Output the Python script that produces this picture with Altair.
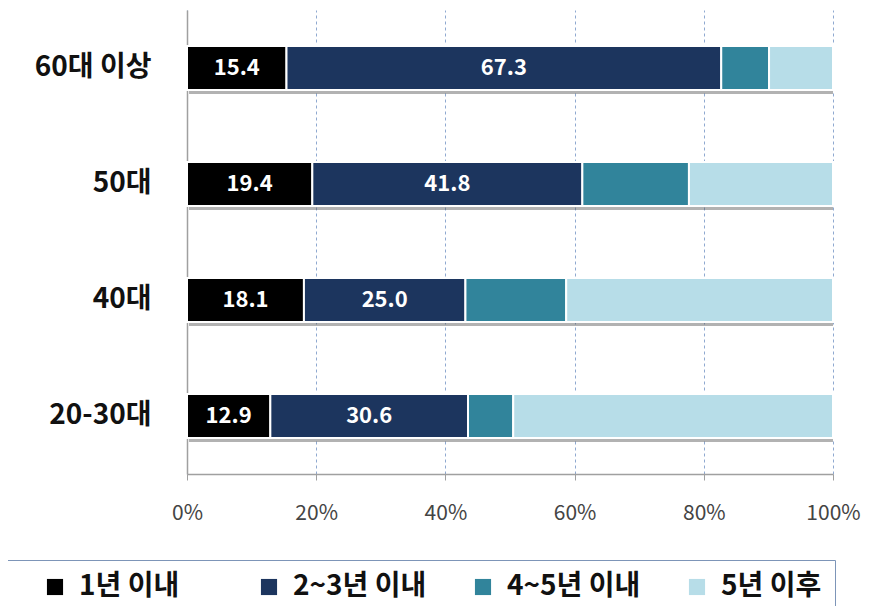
import altair as alt
import pandas as pd

groups = ["60대 이상", "50대", "40대", "20-30대"]
series = ["1년 이내", "2~3년 이내", "4~5년 이내", "5년 이후"]
colors = ["#000000", "#1c355e", "#31849b", "#b7dde8"]
v1 = [15.4, 19.4, 18.1, 12.9]
v2 = [67.3, 41.8, 25.0, 30.6]
v3 = [7.4, 16.5, 15.6, 7.0]
v4 = [9.9, 22.3, 41.3, 49.5]
labelled = ["1년 이내", "2~3년 이내"]

rows = []
for gi, g in enumerate(groups):
    start = 0.0
    for s, vals in zip(series, [v1, v2, v3, v4]):
        v = vals[gi]
        rows.append({"group": g, "series": s, "value": v, "start": start,
                     "end": start + v, "mid": start + v / 2,
                     "label": f"{v:.1f}" if s in labelled else ""})
        start += v
df = pd.DataFrame(rows)
tot = pd.DataFrame({"group": groups, "start": [0] * 4, "end": [100] * 4})

FONT = "Noto Sans CJK KR"
yscale = alt.Scale(paddingInner=0.62, paddingOuter=0.31)
xscale = alt.Scale(domain=[0, 100], nice=False)

x_axis = alt.Axis(values=[0, 20, 40, 60, 80, 100], labelExpr="datum.value + '%'",
                  grid=True, gridDash=[3, 3], gridColor="#8fa9d0", gridWidth=1,
                  domainColor="#a0a0a0", domainWidth=1.5, tickColor="#a0a0a0",
                  tickSize=6, labelFontSize=21, labelColor="#444444",
                  labelFont=FONT, labelPadding=22, labelFlush=False)
y_axis = alt.Axis(ticks=False, grid=False, domain=True, domainColor="#a0a0a0",
                  domainWidth=1.5, labelFontSize=28, labelFontWeight="bold",
                  labelColor="#111111", labelFont=FONT, labelPadding=36)


def X(field):
    return alt.X(field, scale=xscale, title=None, axis=x_axis)


Y = alt.Y("group:N", sort=groups, title=None, scale=yscale, axis=y_axis)

shadow = alt.Chart(tot).mark_bar(color="#555555", opacity=0.45, yOffset=4, xOffset=2).encode(
    x=X("start:Q"), x2="end:Q", y=Y)

bars = alt.Chart(df).mark_bar(stroke="white", strokeWidth=2).encode(
    x=X("start:Q"),
    x2="end:Q",
    y=Y,
    color=alt.Color("series:N", sort=series, scale=alt.Scale(domain=series, range=colors),
                    legend=alt.Legend(title=None, orient="none", legendX=-180, legendY=550,
                                      direction="horizontal", columns=4, gridAlign="all",
                                      symbolType="square", symbolSize=260, symbolStrokeWidth=0,
                                      symbolOffset=21,
                                      labelFontSize=28, labelFontWeight="bold", labelFont=FONT,
                                      labelColor="#111111", columnPadding=21, labelOffset=10,
                                      padding=13, strokeColor="#7d95b8",
                                      labelLimit=300)),
)

text = alt.Chart(df).mark_text(color="white", fontWeight="bold", fontSize=22, font=FONT).encode(
    x=X("mid:Q"), y=Y, text="label:N")

chart = alt.layer(shadow, bars, text).properties(
    width=646, height=464,
    background="white",
    autosize=alt.AutoSizeParams(type="none"),
    padding={"left": 179, "top": 2, "right": 28, "bottom": 132},
).configure_view(stroke="transparent")

chart.save("out.html", embed_options={"renderer": "svg", "actions": False})
